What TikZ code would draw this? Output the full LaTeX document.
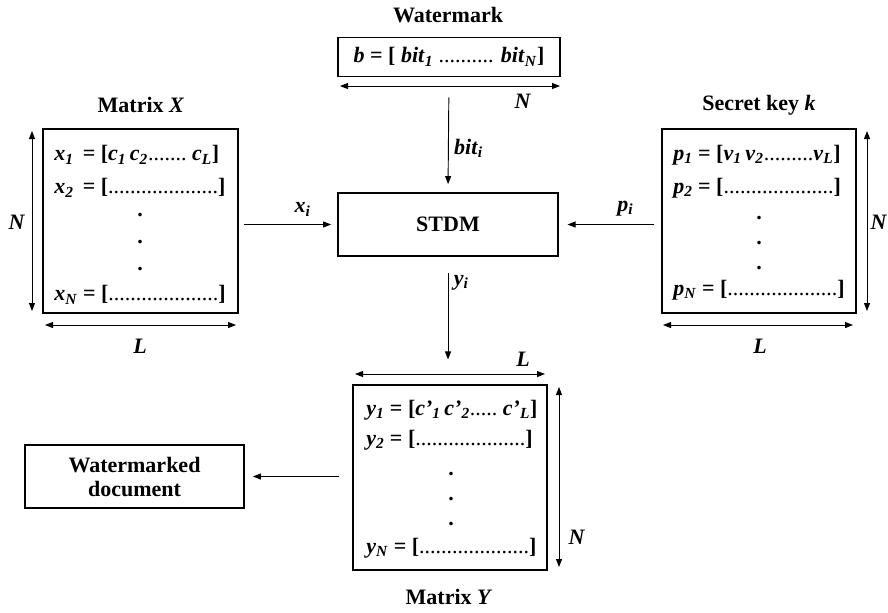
\documentclass[tikz,border=0pt]{standalone}
\usepackage{fontspec}
\setmainfont{Liberation Serif}
\usetikzlibrary{arrows.meta,positioning}

\newcommand{\bv}[1]{\textbf{\textit{#1}}}
\newcommand{\bsub}[2]{\bv{#1}\textsubscript{\bv{#2}}}
\newcommand{\thindots}[1]{{\mdseries\upshape #1}}

\tikzset{
    % fonts
    bigfont/.style={font=\fontsize{16.5}{18}\selectfont\bfseries},
    % framed boxes
    blockbox/.style={draw, line width=1.3pt, inner sep=0pt, align=center,
        bigfont},
    matbox/.style={draw, line width=1.3pt, inner sep=0pt,
        minimum width=146pt, minimum height=138pt},
    rowtext/.style={anchor=west, inner sep=0pt, bigfont},
    vdot/.style={anchor=base, inner sep=0pt, bigfont},
    lbl/.style={inner sep=1pt, bigfont},
    % connectors
    arr/.style={-{Triangle[length=6pt,width=4.5pt]}, line width=0.7pt},
    dim/.style={{Triangle[length=6pt,width=4.5pt]}-{Triangle[length=6pt,width=4.5pt]},
        line width=0.7pt},
}

\begin{document}
\begin{tikzpicture}[x=0.75pt,y=-0.75pt]
  \useasboundingbox (0,0) rectangle (888,612);

  % watermark on top
  \node[lbl] (wmtitle) at (448,15) {Watermark};
  \node[blockbox, minimum width=166.5pt, minimum height=29.25pt] (wm) at (449,57)
    {\bv{b} = [ \bsub{bit}{1} \thindots{..........} \bsub{bit}{N}]};
  \coordinate (wmL) at (340,86);
  \coordinate (wmR) at (560,86);
  \draw[dim] (wmL) -- (wmR);
  \node[lbl] (wmN) at (523,101) {\bv{N}};

  % embedding block
  \node[blockbox, minimum width=165pt, minimum height=47.25pt] (stdm) at (448,224.5) {STDM};

  % matrix X
  \node[lbl] (xtitle) at (141,105) {Matrix \textit{X}};
  \node[matbox] (Xbox) at (140.5,221) {};
  \node[rowtext] (x1) at (54,155) {\bsub{x}{1}\ \,= [\bsub{c}{1}\,\bsub{c}{2}\thindots{.......}\ \bsub{c}{L}]};
  \node[rowtext] (x2) at (54,188) {\bsub{x}{2}\ \,= [\thindots{....................}]};
  \node[vdot] (xd1) at (140,216) {.};
  \node[vdot] (xd2) at (140,243) {.};
  \node[vdot] (xd3) at (140,270) {.};
  \node[rowtext] (xN) at (54,295) {\bsub{x}{N} = [\thindots{....................}]};
  \coordinate (xNt) at (32,131);
  \coordinate (xNb) at (32,311);
  \draw[dim] (xNt) -- (xNb);
  \node[lbl] (xN lbl) at (17,222) {\bv{N}};
  \coordinate (xLl) at (45,325);
  \coordinate (xLr) at (236,325);
  \draw[dim] (xLl) -- (xLr);
  \node[lbl] (xL lbl) at (140,346) {\bv{L}};

  % secret key
  \node[lbl] (ktitle) at (759,105) {Secret key \bv{k}};
  \node[matbox, minimum width=145.5pt] (Kbox) at (759,221) {};
  \node[rowtext] (p1) at (673,155) {\bsub{p}{1} = [\bsub{v}{1}\,\bsub{v}{2}\thindots{.........}\bsub{v}{L}]};
  \node[rowtext] (p2) at (673,188) {\bsub{p}{2} = [\thindots{....................}]};
  \node[vdot] (pd1) at (759,219) {.};
  \node[vdot] (pd2) at (759,244) {.};
  \node[vdot] (pd3) at (759,269) {.};
  \node[rowtext] (pN) at (673,290) {\bsub{p}{N} = [\thindots{....................}]};
  \coordinate (kNt) at (867,131);
  \coordinate (kNb) at (867,311);
  \draw[dim] (kNt) -- (kNb);
  \node[lbl] (kN lbl) at (879,222) {\bv{N}};
  \coordinate (kLl) at (663,325);
  \coordinate (kLr) at (853,325);
  \draw[dim] (kLl) -- (kLr);
  \node[lbl] (kL lbl) at (760,346) {\bv{L}};

  % matrix Y
  \node[matbox, minimum width=145.5pt, minimum height=138.75pt] (Ybox) at (450,477.5) {};
  \node[rowtext] (y1) at (366,410) {\bsub{y}{1} = [\bsub{c'}{1}\,\bsub{c'}{2}\thindots{.....}\ \bsub{c'}{L}]};
  \node[rowtext] (y2) at (366,440) {\bsub{y}{2} = [\thindots{....................}]};
  \node[vdot] (yd1) at (451,475) {.};
  \node[vdot] (yd2) at (451,500) {.};
  \node[vdot] (yd3) at (451,525) {.};
  \node[rowtext] (yN) at (366,548) {\bsub{y}{N} = [\thindots{....................}]};
  \coordinate (yLl) at (355,374);
  \coordinate (yLr) at (545,374);
  \draw[dim] (yLl) -- (yLr);
  \node[lbl] (yL lbl) at (523,359) {\bv{L}};
  \coordinate (yNt) at (559,387);
  \coordinate (yNb) at (559,567);
  \draw[dim] (yNt) -- (yNb);
  \node[lbl] (yN lbl) at (577,537) {\bv{N}};
  \node[lbl] (ytitle) at (449,597) {Matrix \textit{Y}};

  % output
  \node[blockbox, minimum width=164.25pt, minimum height=47.25pt] (doc) at (134.5,476.5)
    {Watermarked\\document};

  % flows
  \draw[arr, shorten <=15pt, shorten >=6pt] (wm.south) -- (stdm.north)
    node[lbl, pos=0.62, right=3pt] (bitlbl) {\bsub{bit}{i}};
  \draw[arr, shorten <=4pt, shorten >=4.5pt] (Xbox.east |- stdm.west) -- (stdm.west)
    node[lbl, pos=0.65, above=5pt] (xilbl) {\bsub{x}{i}};
  \draw[arr, shorten <=5pt, shorten >=6.5pt] (Kbox.west |- stdm.east) -- (stdm.east)
    node[lbl, pos=0.35, above=5pt] (pilbl) {\bsub{p}{i}};
  \draw[arr, shorten <=12pt, shorten >=18.5pt] (stdm.south) -- (stdm.south |- Ybox.north)
    node[lbl, pos=0.2, right=3pt] (yilbl) {\bsub{y}{i}};
  \draw[arr, shorten <=9.5pt, shorten >=6pt] (Ybox.west |- doc.east) -- (doc.east);
\end{tikzpicture}
\end{document}
